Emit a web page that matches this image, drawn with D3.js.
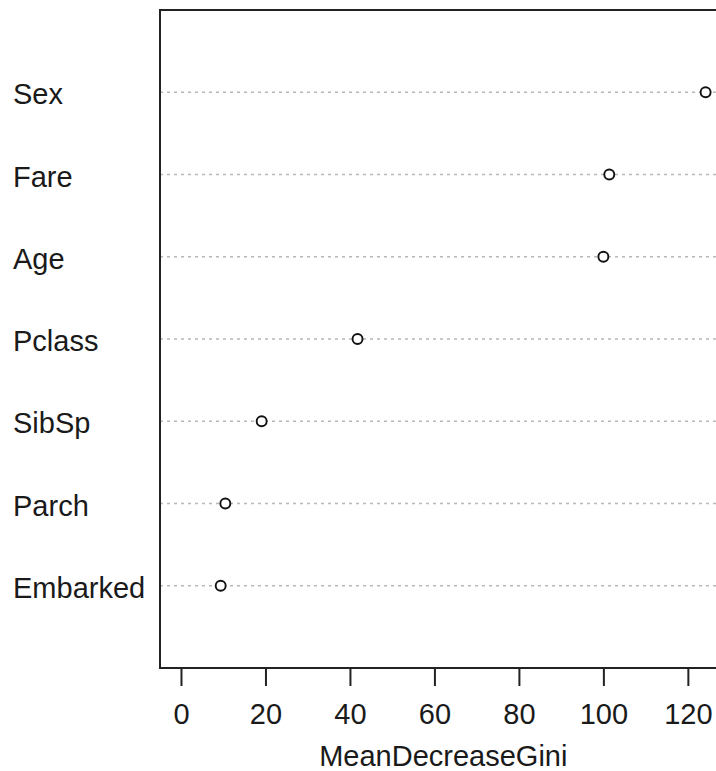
<!DOCTYPE html>
<html>
<head>
<meta charset="utf-8">
<script src="https://cdn.jsdelivr.net/npm/d3@7"></script>
<style>
  html, body { margin: 0; padding: 0; background: #fff; }
  svg { display: block; }
  text { font-family: "Liberation Sans", Arial, sans-serif; fill: #1a1a1a; }
</style>
</head>
<body>
<script>
// Variable importance from a random forest (top to bottom)
const variables = ["Sex", "Fare", "Age", "Pclass", "SibSp", "Parch", "Embarked"];
const giniValues = [124.2, 101.4, 100.0, 41.8, 19.1, 10.5, 9.4];
const xTicks = [0, 20, 40, 60, 80, 100, 120];
const xLabel = "MeanDecreaseGini";

const width = 716, height = 771;
const plot = { left: 160, top: 10, bottom: 668 };
const fontSize = 29;

const svg = d3.select("body").append("svg")
  .attr("width", width).attr("height", height);

// x domain: 0..max, padded 4% on each side
const xMax = d3.max(giniValues);
const pad = 0.04 * xMax;
const x = d3.scaleLinear().domain([-pad, xMax + pad]).range([plot.left, 181.5 + (xMax + pad) * 4.22]);

// rows numbered 1..n from the bottom, with one unit of space above and below
const n = variables.length;
const y = d3.scaleLinear().domain([0, n + 1]).range([plot.bottom, plot.top]);
const rowY = (i) => y(n - i);

const plotRight = x.range()[1];

// dotted guide lines
svg.append("g").selectAll("line")
  .data(variables)
  .join("line")
  .attr("x1", plot.left).attr("x2", plotRight)
  .attr("y1", (d, i) => rowY(i)).attr("y2", (d, i) => rowY(i))
  .attr("stroke", "#b8b8b8").attr("stroke-width", 1.4)
  .attr("stroke-dasharray", "3,4");

// points
svg.append("g").selectAll("circle")
  .data(giniValues)
  .join("circle")
  .attr("cx", d => x(d)).attr("cy", (d, i) => rowY(i))
  .attr("r", 5)
  .attr("fill", "#fff").attr("stroke", "#111").attr("stroke-width", 1.9);

// plot frame
svg.append("rect")
  .attr("x", plot.left).attr("y", plot.top)
  .attr("width", plotRight - plot.left).attr("height", plot.bottom - plot.top)
  .attr("fill", "none").attr("stroke", "#222").attr("stroke-width", 2);

// variable labels, left aligned in the margin
svg.append("g").selectAll("text")
  .data(variables)
  .join("text")
  .attr("x", 13).attr("y", (d, i) => rowY(i) + 12)
  .attr("font-size", fontSize)
  .text(d => d);

// x axis
const xAxis = d3.axisBottom(x).tickValues(xTicks).tickSize(18).tickSizeOuter(0).tickPadding(17);
const gx = svg.append("g")
  .attr("transform", `translate(0,${plot.bottom})`)
  .call(xAxis);
gx.select(".domain").remove();
gx.selectAll(".tick line").attr("stroke", "#222").attr("stroke-width", 2);
gx.selectAll(".tick text")
  .attr("font-size", fontSize)
  .attr("font-family", "Liberation Sans, Arial, sans-serif")
  .attr("fill", "#1a1a1a");

// x axis title
svg.append("text")
  .attr("x", x((x.domain()[0] + x.domain()[1]) / 2)).attr("y", 766)
  .attr("text-anchor", "middle")
  .attr("font-size", fontSize)
  .text(xLabel);
</script>
</body>
</html>
